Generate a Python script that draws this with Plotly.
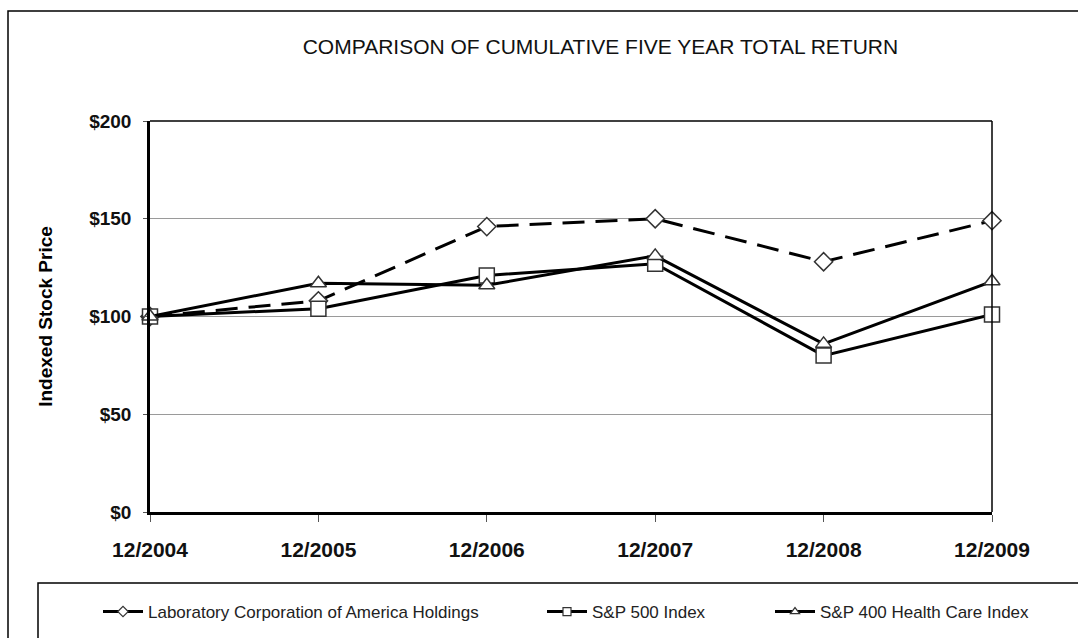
import plotly.graph_objects as go

categories = ["12/2004", "12/2005", "12/2006", "12/2007", "12/2008", "12/2009"]
labcorp = [100, 108, 146, 150, 128, 149]
sp500 = [100, 104, 121, 127, 80, 101]
sp400hc = [100, 117, 116, 131, 86, 118]
series_names = ["Laboratory Corporation of America Holdings", "S&P 500 Index", "S&P 400 Health Care Index"]
y_ticks = [0, 50, 100, 150, 200]
y_tick_labels = ["$0", "$50", "$100", "$150", "$200"]

W, H = 1078, 638
L, R, T, B = 150, 992, 121, 512  # plot area in px


def px_x(p):
    return (p - L) / (R - L)


def px_y(p):
    return (B - p) / (B - T)


fig = go.Figure()
marker_line = dict(color="#333333", width=1.5)
series = [
    (labcorp, "diamond", 14, "22px,11px"),
    (sp500, "square", 15, "solid"),
    (sp400hc, "triangle-up", 14, "solid"),
]
legend_ids = ["legend", "legend2", "legend3"]
for (vals, sym, size, dash), name, lg in zip(series, series_names, legend_ids):
    fig.add_trace(go.Scatter(
        x=categories, y=vals, name=name, mode="lines+markers",
        line=dict(color="black", width=3, dash=dash),
        marker=dict(symbol=sym, size=size, color="white", line=marker_line),
        cliponaxis=False, showlegend=False,
    ))
    # legend entry (solid line, small marker, as in the reference key)
    fig.add_trace(go.Scatter(
        x=[None], y=[None], name=name, mode="lines+markers",
        line=dict(color="black", width=3),
        marker=dict(symbol=sym, size=8, color="white", line=dict(color="#333333", width=1.2)),
        showlegend=True, legend=lg,
    ))

legend_font = dict(family="Liberation Sans, Arial", size=17, color="#222222")
leg_y = px_y(612)


def leg(xpx):
    return dict(orientation="h", x=px_x(xpx), xanchor="left", y=leg_y, yanchor="middle",
                font=legend_font, bgcolor="rgba(0,0,0,0)", itemwidth=40)


fig.update_layout(
    width=W, height=H,
    margin=dict(l=L, r=W - R, t=T, b=H - B, autoexpand=False),
    paper_bgcolor="white", plot_bgcolor="white",
    font=dict(family="Liberation Sans, Arial", color="black"),
    title=dict(
        text="COMPARISON OF CUMULATIVE FIVE YEAR TOTAL RETURN",
        x=0.557, xanchor="center", y=1 - 47 / H, yanchor="middle",
        font=dict(family="Liberation Sans, Arial", size=21, color="#111111"),
    ),
    legend=leg(98), legend2=leg(542), legend3=leg(770),
    xaxis=dict(
        type="category", range=[0, 5], showgrid=False,
        showline=True, linecolor="black", linewidth=2.5, mirror=False,
        ticks="outside", ticklen=7, tickcolor="#555555", tickwidth=1,
        ticklabelstandoff=10,
        tickfont=dict(family="Liberation Sans, Arial", size=21, color="#111111", weight="bold"),
        zeroline=False,
    ),
    yaxis=dict(
        range=[0, 200], tickvals=y_ticks, ticktext=y_tick_labels,
        showgrid=True, gridcolor="#9a9a9a", gridwidth=1,
        showline=True, linecolor="black", linewidth=2.5,
        ticks="outside", ticklen=4, tickcolor="#555555",
        ticklabelstandoff=8,
        tickfont=dict(family="Liberation Sans, Arial", size=19, color="#111111", weight="bold"),
        title=dict(text="<b>Indexed Stock Price</b>", standoff=32,
                   font=dict(family="Liberation Sans, Arial", size=19, color="black")),
        zeroline=False,
    ),
    shapes=[
        dict(type="line", xref="paper", yref="paper", x0=0, x1=1, y0=1, y1=1,
             line=dict(color="black", width=1.5)),
        dict(type="line", xref="paper", yref="paper", x0=1, x1=1, y0=0, y1=1,
             line=dict(color="black", width=1.5)),
        dict(type="rect", xref="paper", yref="paper", x0=px_x(8), x1=px_x(1100),
             y0=px_y(700), y1=px_y(11), line=dict(color="black", width=1.5),
             fillcolor="rgba(0,0,0,0)", layer="below"),
        dict(type="rect", xref="paper", yref="paper", x0=px_x(38), x1=px_x(1100),
             y0=px_y(700), y1=px_y(583), line=dict(color="black", width=1.5),
             fillcolor="rgba(0,0,0,0)", layer="below"),
    ],
)

fig.write_html("out.html")
